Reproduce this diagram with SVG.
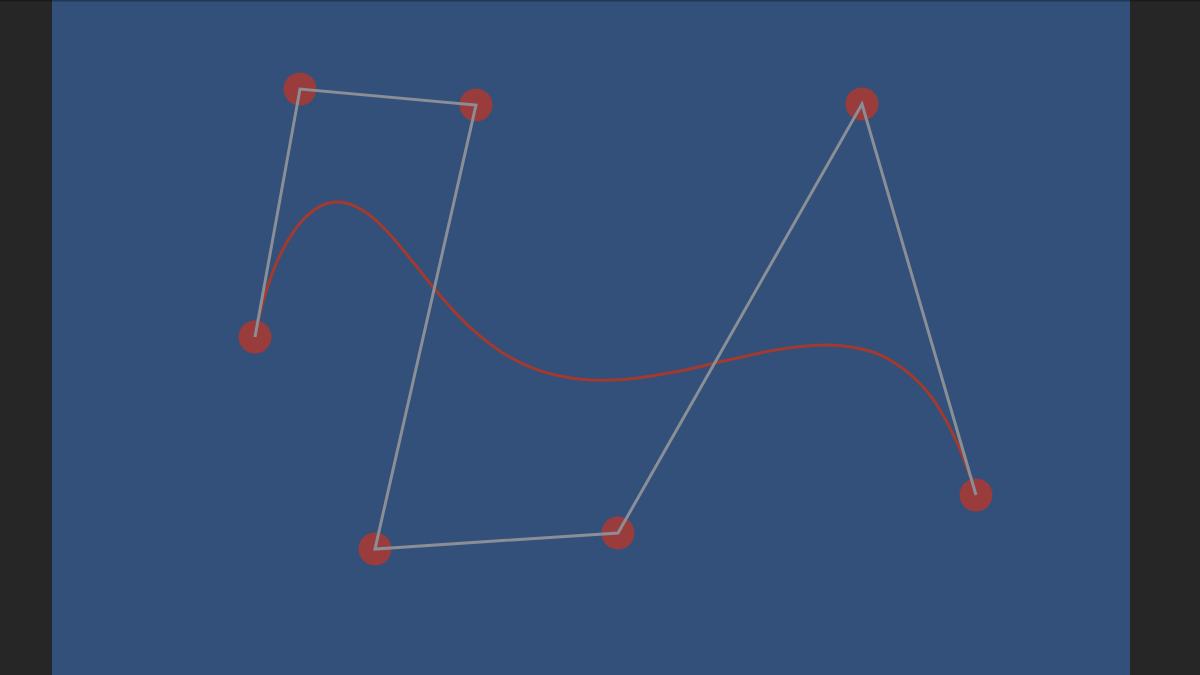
<svg xmlns="http://www.w3.org/2000/svg" width="1200" height="675" viewBox="0 0 1200 675">
  <style>
    .pt { fill: #9a3c3c; }
    .poly { fill: none; stroke: #8a8e96; stroke-width: 3; stroke-linejoin: miter; }
    .curve { fill: none; stroke: #a23a30; stroke-width: 3; stroke-linecap: round; }
  </style>
  <rect x="0" y="0" width="1200" height="675" fill="#262626"/>
  <rect x="52" y="0" width="1078" height="675" fill="#325079"/>
  <rect x="0" y="0" width="1200" height="1.5" fill="#000" opacity="0.3"/>
  <g id="nodes">
    <g id="p0"><circle class="pt" cx="255" cy="337" r="16.5"/></g>
    <g id="p1"><circle class="pt" cx="300" cy="89" r="16.5"/></g>
    <g id="p2"><circle class="pt" cx="476" cy="105" r="16.5"/></g>
    <g id="p3"><circle class="pt" cx="375" cy="549" r="16.5"/></g>
    <g id="p4"><circle class="pt" cx="618" cy="533" r="16.5"/></g>
    <g id="p5"><circle class="pt" cx="862" cy="104" r="16.5"/></g>
    <g id="p6"><circle class="pt" cx="976" cy="495" r="16.5"/></g>
  </g>
  <g id="connectors">
    <path class="curve" d="M255,337 C259.5,312.2 265.83,290.72 272.48,272.82 C279.13,254.92 287.15,240.61 294.92,229.62 C302.69,218.63 311.03,211.39 319.11,206.87 C327.19,202.35 335.38,201.42 343.39,202.5 C351.41,203.58 359.3,207.84 367.2,213.33 C375.1,218.82 382.85,226.91 390.81,235.45 C398.78,243.99 406.65,254.42 414.99,264.56 C423.33,274.71 431.76,285.97 440.83,296.32 C449.9,306.68 459.26,317.38 469.42,326.69 C479.58,336 490.24,344.94 501.77,352.19 C513.3,359.44 525.52,365.69 538.59,370.2 C551.66,374.71 565.55,377.75 580.21,379.25 C594.87,380.75 610.42,380.49 626.54,379.21 C642.67,377.93 659.66,374.83 676.96,371.55 C694.27,368.27 712.33,363.4 730.37,359.54 C748.41,355.68 767.01,350.73 785.19,348.39 C803.38,346.05 821.85,343.47 839.48,345.49 C857.11,347.51 874.67,350.5 890.97,360.5 C907.27,370.5 923.1,383.06 937.27,405.48 C951.44,427.9 964.6,455.9 976,495"/>
    <polyline class="poly" points="255,337 300,89 476,105 375,549 618,533 862,104 976,495"/>
  </g>
</svg>
